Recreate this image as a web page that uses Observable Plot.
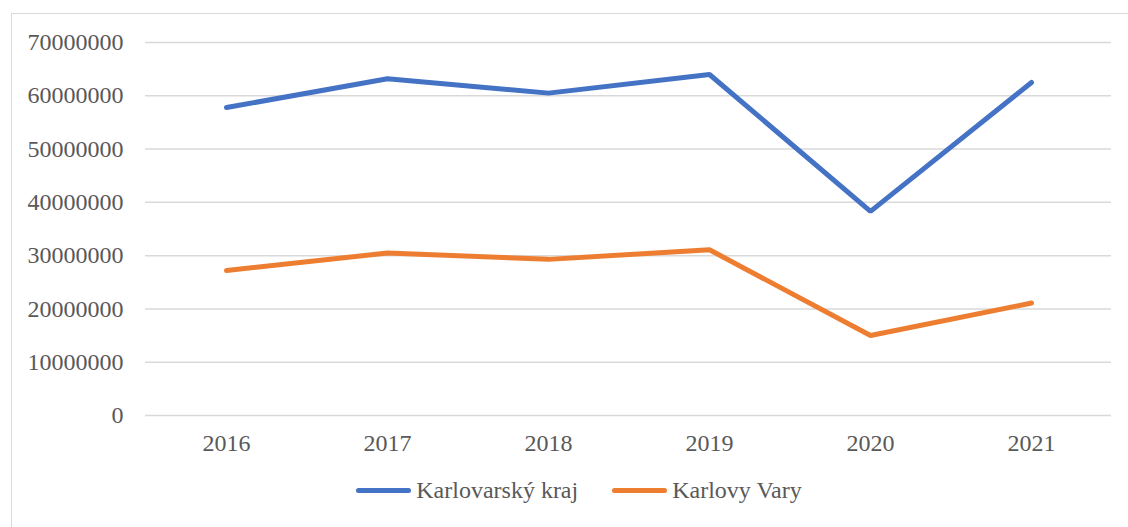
<!DOCTYPE html>
<html>
<head>
<meta charset="utf-8">
<script src="https://cdn.jsdelivr.net/npm/d3@7"></script>
<script src="https://cdn.jsdelivr.net/npm/@observablehq/plot@0.6"></script>
<style>
  html, body { margin: 0; padding: 0; background: #fff; }
  #wrap { position: relative; width: 1128px; height: 527px; overflow: hidden; font-family: "Liberation Serif", "Times New Roman", serif; }
  #frame { position: absolute; left: 11px; top: 13px; width: 1130px; height: 530px; border: 1px solid #d9d9d9; pointer-events: none; }
  #legend { position: absolute; left: 0; top: 477px; width: 1128px; display: flex; justify-content: center; gap: 34px; font-size: 24px; color: #595959; padding-left: 30px; box-sizing: border-box; }
  .item { display: flex; align-items: center; gap: 5px; }
  .sw { width: 55px; height: 5px; border-radius: 3px; }
</style>
</head>
<body>
<div id="wrap">
  <div id="chart"></div>
  <div id="legend"></div>
  <div id="frame"></div>
</div>
<script>
const years = ["2016", "2017", "2018", "2019", "2020", "2021"];
const seriesNames = ["Karlovarský kraj", "Karlovy Vary"];
const karlovarskyKraj = [57800000, 63200000, 60500000, 64000000, 38300000, 62500000];
const karlovyVary = [27200000, 30500000, 29300000, 31100000, 15000000, 21100000];
const yTicks = [0, 10000000, 20000000, 30000000, 40000000, 50000000, 60000000, 70000000];
const colors = ["#4472C4", "#ED7D31"];

const rows = [];
years.forEach((y, i) => {
  rows.push({year: y, value: karlovarskyKraj[i], series: seriesNames[0]});
  rows.push({year: y, value: karlovyVary[i], series: seriesNames[1]});
});

const chart = Plot.plot({
  width: 1128,
  height: 465,
  marginLeft: 145,
  marginRight: 17,
  marginTop: 42,
  marginBottom: 50,
  style: {fontFamily: "'Liberation Serif', 'Times New Roman', serif", fontSize: "24px", color: "#595959", background: "transparent"},
  x: {type: "point", domain: years, padding: 0.5, label: null},
  y: {domain: [0, 70000000], label: null},
  color: {domain: seriesNames, range: colors},
  marks: [
    Plot.ruleY(yTicks, {stroke: "#d9d9d9", strokeWidth: 1.5}),
    Plot.axisY(yTicks, {tickSize: 0, tickPadding: 22, tickFormat: d => d3.format("d")(d), label: null, fill: "#595959"}),
    Plot.axisX(years, {tickSize: 0, tickPadding: 18, label: null, fill: "#595959"}),
    Plot.line(rows, {x: "year", y: "value", z: "series", stroke: "series", strokeWidth: 5, strokeLinecap: "round", strokeLinejoin: "miter"})
  ]
});
document.getElementById("chart").appendChild(chart);

const legend = document.getElementById("legend");
seriesNames.forEach((n, i) => {
  const it = document.createElement("div");
  it.className = "item";
  const sw = document.createElement("div");
  sw.className = "sw";
  sw.style.background = colors[i];
  const t = document.createElement("span");
  t.textContent = n;
  it.appendChild(sw);
  it.appendChild(t);
  legend.appendChild(it);
});
</script>
</body>
</html>
